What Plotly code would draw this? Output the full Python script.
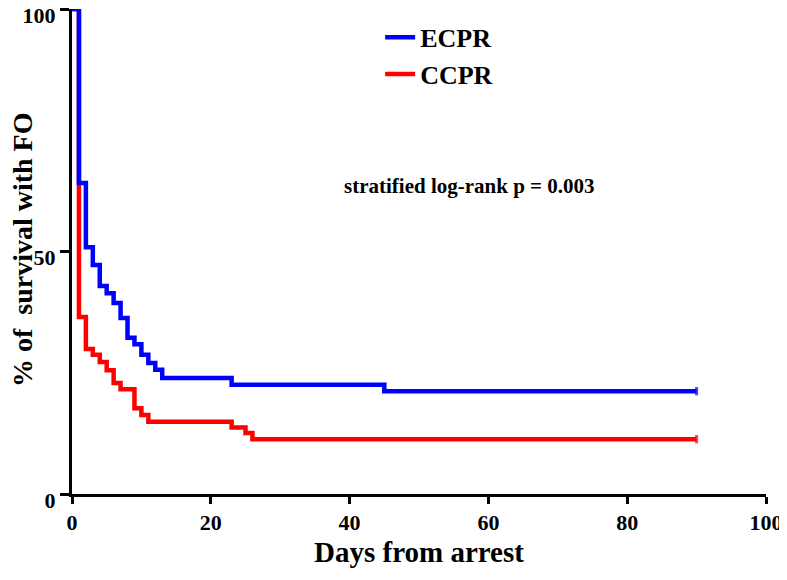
import plotly.graph_objects as go

# Kaplan-Meier style step data (days from arrest, % survival with FO)
ecpr_days = [0, 1, 2, 3, 4, 5, 6, 7, 8, 9, 10, 11, 12, 13, 23, 45, 90]
ecpr_surv = [100, 64.1, 50.9, 47.2, 42.9, 41.4, 39.4, 36.3, 32.2, 30.9, 28.7, 27.0, 25.6, 23.9, 22.5, 21.2, 21.2]

ccpr_days = [0, 1, 2, 3, 4, 5, 6, 7, 9, 10, 11, 23, 25, 26, 90]
ccpr_surv = [100, 36.5, 29.9, 28.7, 27.2, 25.5, 22.9, 21.6, 17.7, 16.3, 14.9, 13.7, 12.6, 11.3, 11.3]

x_ticks = [0, 20, 40, 60, 80, 100]
y_ticks = [0, 50, 100]

series_names = ["ECPR", "CCPR"]
series_colors = ["#0000FF", "#FF0000"]

FONT = "Liberation Serif, Times New Roman, serif"


def censor_sizes(n):
    return [0] * (n - 1) + [6]


fig = go.Figure()
# red first so that blue is drawn on top (as in the original)
fig.add_trace(go.Scatter(
    x=ccpr_days, y=ccpr_surv, name=series_names[1], mode="lines+markers",
    line=dict(shape="hv", color=series_colors[1], width=4.5),
    marker=dict(symbol="line-ns", size=censor_sizes(len(ccpr_days)),
                line=dict(color=series_colors[1], width=3)),
    legendrank=2,
))
fig.add_trace(go.Scatter(
    x=ecpr_days, y=ecpr_surv, name=series_names[0], mode="lines+markers",
    line=dict(shape="hv", color=series_colors[0], width=4.5),
    marker=dict(symbol="line-ns", size=censor_sizes(len(ecpr_days)),
                line=dict(color=series_colors[0], width=3)),
    legendrank=1,
))

# the page body has an 8px margin, so the figure is 8px smaller in each direction
fig.update_layout(
    width=779, height=572,
    margin=dict(l=64, r=21, t=1, b=86, autoexpand=False),
    paper_bgcolor="white", plot_bgcolor="white",
    font=dict(family=FONT, color="black", size=22, weight="bold"),
    showlegend=True,
    legend=dict(x=0.444, y=0.99, xanchor="left", yanchor="top",
                font=dict(size=26, family=FONT, weight="bold"),
                bgcolor="rgba(0,0,0,0)", itemwidth=30),
    xaxis=dict(range=[0, 100], tickvals=x_ticks, ticktext=[str(v) for v in x_ticks],
               showline=True, linecolor="black", linewidth=3,
               ticks="outside", ticklen=7, tickwidth=3, tickcolor="black",
               showgrid=False, zeroline=False, ticklabeloverflow="allow",
               automargin=False,
               tickfont=dict(size=22, family=FONT, weight="bold")),
    yaxis=dict(range=[0, 100], tickvals=y_ticks, ticktext=[str(v) for v in y_ticks],
               showline=True, linecolor="black", linewidth=3,
               ticks="outside", ticklen=9, tickwidth=3, tickcolor="black",
               showgrid=False, zeroline=False, ticklabeloverflow="allow",
               automargin=False, ticklabelshift=6,
               tickfont=dict(size=22, family=FONT, weight="bold")),
    annotations=[
        dict(text="Days from arrest", xref="paper", yref="paper",
             x=0.5, y=-0.119, xanchor="center", yanchor="middle",
             showarrow=False, font=dict(size=29, family=FONT, weight="bold")),
        dict(text="% of  survival with FO", xref="paper", yref="paper",
             x=-0.072, y=0.503, xanchor="center", yanchor="middle", textangle=-90,
             showarrow=False, font=dict(size=28, family=FONT, weight="bold")),
        dict(text="stratified log-rank p = 0.003", xref="paper", yref="paper",
             x=0.573, y=0.635, xanchor="center", yanchor="middle",
             showarrow=False, font=dict(size=21, family=FONT, weight="bold")),
    ],
)

fig.write_html("out.html")
